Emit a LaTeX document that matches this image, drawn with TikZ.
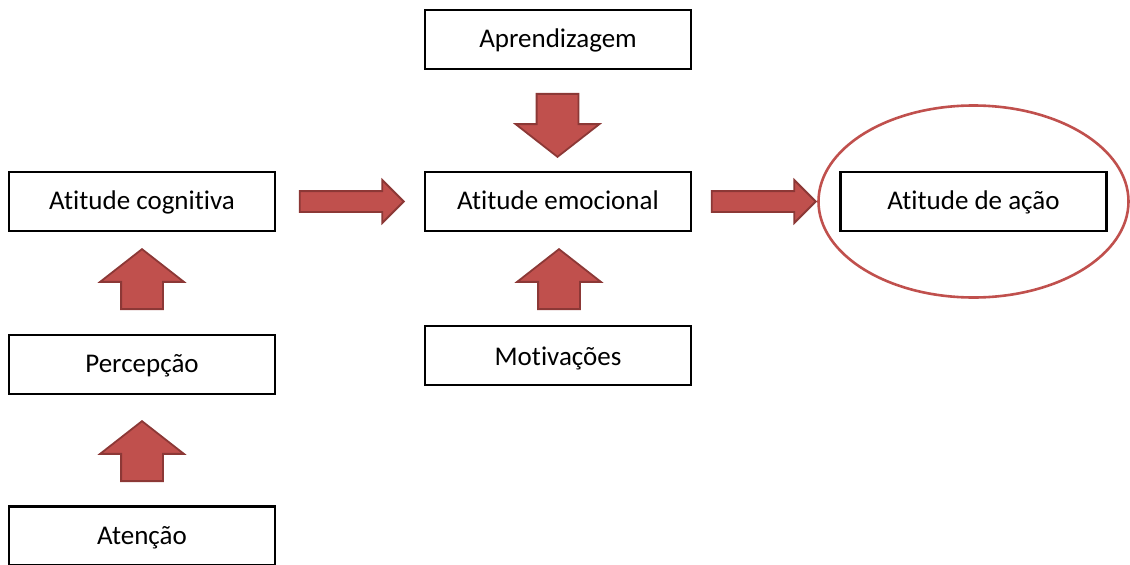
\documentclass[tikz,border=0pt]{standalone}
\usepackage{fontspec}
\setmainfont{Carlito}[Ligatures=NoCommon]
\usetikzlibrary{shapes.arrows}
\definecolor{arrowfill}{HTML}{C0504D}
\definecolor{arrowline}{HTML}{8C3836}
\begin{document}
\begin{tikzpicture}[x=1pt,y=1pt,yscale=-1,xscale=1,
  box/.style={draw=black,line width=2.2pt,minimum width=266pt,minimum height=59pt,inner sep=0pt,text height=20pt,text depth=4pt,font=\fontsize{27}{32}\selectfont},
  blockarrow/.style={single arrow,draw=arrowline,fill=arrowfill,line width=1.8pt,single arrow head indent=0pt,anchor=tip},
  harrow/.style={blockarrow,inner sep=9.5pt,single arrow head extend=11pt,minimum height=104pt,single arrow tip angle=90},
  varrow/.style={blockarrow,inner sep=20pt,single arrow head extend=21pt,minimum height=60pt,single arrow tip angle=104}]
\clip (0,0) rectangle (1130,565);
% boxes
\node[box] (aprend) at (558,39.5) {Aprendizagem};
\node[box] (cognit) at (142,201.5) {Atitude cognitiva};
\node[box] (emoc) at (558,201.5) {Atitude emocional};
\node[box] (acao) at (973.5,201.5) {Atitude de ação};
\node[box] (percep) at (142,364.5) {Percepção};
\node[box,text depth=1pt] (motiv) at (558,355.5) {Motivações};
\node[box] (atenc) at (142,536) {Atenção};
% highlight
\draw[arrowfill,line width=2.6pt] (acao.center) ellipse (155pt and 96pt);
% block arrows
\node[harrow] (a1) at (405,201.5) {};
\node[harrow] (a2) at (817,201.5) {};
\node[varrow,shape border rotate=270,minimum height=63pt] (a3) at (557.5,158) {};
\node[varrow,shape border rotate=90] (a4) at (142,248) {};
\node[varrow,shape border rotate=90] (a5) at (559,248) {};
\node[varrow,shape border rotate=90] (a6) at (142,420) {};
\end{tikzpicture}
\end{document}
